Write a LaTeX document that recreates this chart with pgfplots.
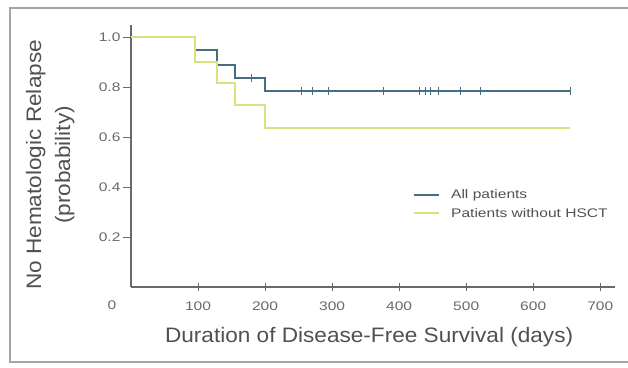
\documentclass[border=0pt]{standalone}
\usepackage{pgfplots}
\pgfplotsset{compat=1.18}
\usepackage{fontspec}
\setmainfont{Liberation Sans}
\newfontfamily\tickfont[FakeStretch=1.25]{Liberation Sans}
\newfontfamily\labfont[FakeStretch=1.08]{Liberation Sans}
\definecolor{allc}{RGB}{72,108,130}
\definecolor{hsct}{RGB}{218,226,128}
\definecolor{framec}{RGB}{165,165,165}
\definecolor{tickc}{RGB}{105,105,105}
\definecolor{labc}{RGB}{80,80,80}
\begin{document}
\begin{tikzpicture}
\useasboundingbox (0bp,0bp) rectangle (628bp,368bp);
\draw[framec, line width=1.8bp] (628bp,6bp) -- (10bp,6bp) -- (10bp,360bp) -- (628bp,360bp);
\begin{axis}[
  at={(131bp,81bp)}, anchor=south west, scale only axis,
  width=484bp, height=262bp,
  xmin=0, xmax=722, ymin=0, ymax=1.048,
  axis lines*=left,
  axis line style={tickc, line width=1.1bp},
  xtick={100,200,...,700}, ytick={0.2,0.4,0.6,0.8,1.0},
  xtick align=center, ytick align=outside,
  major tick length=8bp,
  tick style={tickc, line width=0.9bp},
  /pgf/number format/assume math mode=true,
  yticklabel style={/pgf/number format/fixed, /pgf/number format/precision=1, /pgf/number format/fixed zerofill, text=tickc, font=\tickfont\fontsize{12.5}{14}\selectfont, xshift=1bp},
  xticklabel style={text=tickc, font=\tickfont\fontsize{12.5}{14}\selectfont, yshift=-7bp},
  legend style={at={(0.583,0.38)}, anchor=north west, draw=none, fill=none, font=\tickfont\fontsize{12.5}{13}\selectfont, text=labc, inner sep=0pt, row sep=4bp, column sep=9bp},
  legend cell align=left,
  legend image code/.code={\draw[#1, line width=1.8bp] (0bp,0bp) -- (25bp,0bp);},
  clip=false,
]
\addplot[const plot, allc, line width=1.8bp] coordinates {(0,1) (96,0.948) (128,0.888) (155,0.836) (200,0.784) (655,0.784)};
\addlegendentry{All patients}
\addplot[const plot, hsct, line width=1.8bp] coordinates {(0,1) (96,0.90) (128,0.816) (155,0.728) (200,0.636) (655,0.636)};
\addlegendentry{Patients without HSCT}
\addplot[only marks, mark=|, mark size=3.8bp, allc, mark options={line width=0.9bp}, forget plot] coordinates {(180,0.836) (255,0.784) (270,0.784) (294,0.784) (376,0.784) (431,0.784) (439,0.784) (446,0.784) (458,0.784) (491,0.784) (521,0.784) (655,0.784)};
\node[text=tickc, font=\tickfont\fontsize{12.5}{14}\selectfont] at (axis cs:0,0) [xshift=-19bp, yshift=-18bp] {0};
\node[text=labc, font=\labfont\fontsize{21}{29}\selectfont, align=center, rotate=90] at (axis description cs:-0.167,0.466) {No Hematologic Relapse\\(probability)};
\node[text=labc, font=\labfont\fontsize{21}{24}\selectfont] at (axis description cs:0.492,-0.191) {Duration of Disease-Free Survival (days)};
\end{axis}
\end{tikzpicture}
\end{document}
